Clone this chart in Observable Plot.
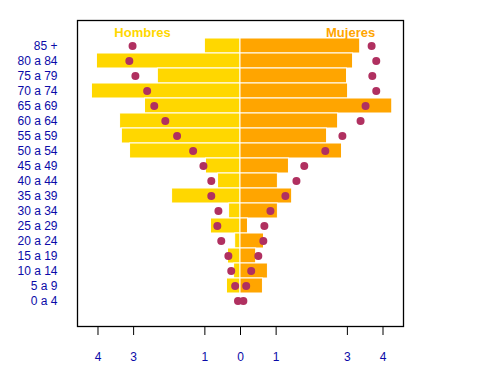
<!DOCTYPE html>
<html>
<head>
<meta charset="utf-8">
<script src="https://cdn.jsdelivr.net/npm/d3@7"></script>
<script src="https://cdn.jsdelivr.net/npm/@observablehq/plot@0.6"></script>
<style>
  html, body { margin: 0; padding: 0; background: #fff; }
  #chart { width: 480px; height: 384px; }
</style>
</head>
<body>
<div id="chart"></div>
<script>
// Age groups, top to bottom
const grupos = ["85 +", "80 a 84", "75 a 79", "70 a 74", "65 a 69", "60 a 64", "55 a 59",
  "50 a 54", "45 a 49", "40 a 44", "35 a 39", "30 a 34", "25 a 29", "20 a 24",
  "15 a 19", "10 a 14", "5 a 9", "0 a 4"];
// Bars (percent)
const hombres = [1.00, 4.03, 2.32, 4.17, 2.68, 3.38, 3.33, 3.10, 0.97, 0.63, 1.92, 0.32, 0.83, 0.15, 0.35, 0.18, 0.38, 0.00];
const mujeres = [3.36, 3.16, 2.99, 3.02, 4.26, 2.74, 2.43, 2.85, 1.36, 1.05, 1.45, 1.05, 0.21, 0.66, 0.44, 0.77, 0.63, 0.00];
// Points (percent)
const hombresPuntos = [3.03, 3.12, 2.95, 2.62, 2.42, 2.11, 1.78, 1.33, 1.04, 0.82, 0.82, 0.62, 0.65, 0.54, 0.34, 0.26, 0.15, 0.07];
const mujeresPuntos = [3.68, 3.81, 3.70, 3.81, 3.51, 3.37, 2.86, 2.38, 1.79, 1.57, 1.26, 0.84, 0.67, 0.64, 0.50, 0.30, 0.16, 0.08];
// Axis ticks
const ticksX = [-4, -3, -1, 0, 1, 3, 4];
// Panel titles
const titulos = ["Hombres", "Mujeres"];
const titulosX = [-2.75, 3.09];
const titulosColor = ["#FFD700", "#FFA500"];

const data = grupos.map((g, i) => ({
  grupo: g, h: hombres[i], m: mujeres[i], hp: hombresPuntos[i], mp: mujeresPuntos[i]
}));
const tit = titulos.map((t, i) => ({t, x: titulosX[i], c: titulosColor[i]}));

const axisColor = "#0A0AA8";

const chart = Plot.plot({
  width: 480,
  height: 384,
  marginLeft: 77,
  marginRight: 77,
  marginTop: 20,
  marginBottom: 58,
  style: {fontFamily: "'Liberation Sans', Arial, sans-serif", fontSize: "12px", background: "white"},
  x: {domain: [-4.575, 4.575]},
  y: {domain: grupos, paddingInner: 0.03, paddingOuter: 1.215},
  marks: [
    Plot.barX(data, {y: "grupo", x1: () => 0, x2: d => -d.h, fill: "#FFD700", stroke: "white", strokeWidth: 1}),
    Plot.barX(data, {y: "grupo", x1: () => 0, x2: d => d.m, fill: "#FFA500", stroke: "white", strokeWidth: 1}),
    Plot.dot(data, {y: "grupo", x: d => -d.hp, r: 4, fill: "#B03060", stroke: null}),
    Plot.dot(data, {y: "grupo", x: d => d.mp, r: 4, fill: "#B03060", stroke: null}),
    Plot.text(tit, {x: "x", y: () => grupos[0], dy: -13, text: "t", fill: "c", fontWeight: "bold", fontSize: 13}),
    Plot.frame({stroke: "black", strokeWidth: 1.3}),
    Plot.axisX({ticks: ticksX, tickFormat: d => Math.abs(d), tickSize: 9, tickPadding: 17, fill: axisColor, stroke: "black", fontSize: 12, label: null}),
    Plot.axisY({tickSize: 0, tickPadding: 20, fill: axisColor, fontSize: 12, label: null})
  ]
});
document.getElementById("chart").append(chart);
</script>
</body>
</html>
